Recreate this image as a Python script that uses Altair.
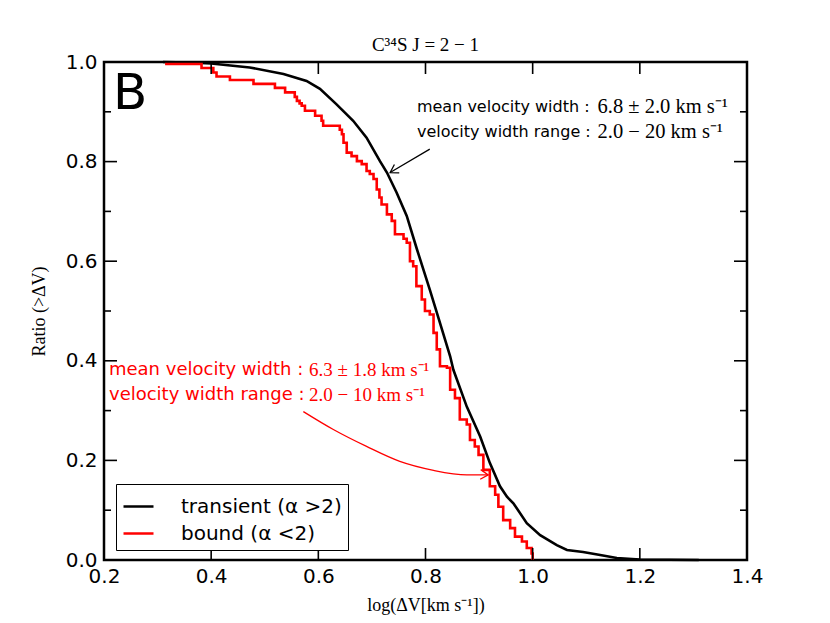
import altair as alt
import pandas as pd

# ---- data ----
black_x = [0.31, 0.36, 0.40, 0.472, 0.535, 0.578, 0.603, 0.634, 0.665, 0.690, 0.715, 0.728,
           0.746, 0.765, 0.784, 0.808, 0.827, 0.846, 0.852, 0.877, 0.902, 0.920, 0.939, 0.952,
           0.964, 0.989, 1.014, 1.045, 1.064, 1.094, 1.126, 1.157, 1.20, 1.31]
black_y = [1.0, 0.999, 0.997, 0.989, 0.976, 0.962, 0.946, 0.915, 0.882, 0.848, 0.801, 0.778,
           0.738, 0.691, 0.624, 0.543, 0.476, 0.409, 0.382, 0.308, 0.248, 0.195, 0.148, 0.127,
           0.114, 0.074, 0.050, 0.030, 0.020, 0.016, 0.010, 0.004, 0.001, 0.0]

red_x = [0.314, 0.382, 0.404, 0.410, 0.435, 0.479, 0.519, 0.538, 0.556, 0.560, 0.565, 0.569,
         0.575, 0.594, 0.606, 0.609, 0.640, 0.644, 0.647, 0.653, 0.662, 0.672, 0.681, 0.690,
         0.696, 0.703, 0.709, 0.714, 0.718, 0.728, 0.737, 0.743, 0.759, 0.765, 0.771, 0.777,
         0.783, 0.793, 0.799, 0.808, 0.815, 0.821, 0.827, 0.840, 0.846, 0.855, 0.864, 0.877,
         0.883, 0.892, 0.899, 0.908, 0.920, 0.930, 0.936, 0.945, 0.958, 0.967, 0.980, 0.989,
         0.998, 1.000]
red_y = [0.996, 0.988, 0.979, 0.971, 0.964, 0.956, 0.948, 0.939, 0.930, 0.922, 0.917, 0.912,
         0.902, 0.892, 0.882, 0.872, 0.864, 0.855, 0.838, 0.818, 0.811, 0.801, 0.795, 0.781,
         0.775, 0.765, 0.744, 0.728, 0.714, 0.694, 0.681, 0.654, 0.645, 0.637, 0.600, 0.590,
         0.550, 0.523, 0.500, 0.493, 0.456, 0.423, 0.389, 0.386, 0.342, 0.325, 0.282, 0.272,
         0.241, 0.228, 0.211, 0.181, 0.148, 0.131, 0.107, 0.080, 0.064, 0.047, 0.037, 0.024,
         0.013, 0.0]

series_names = ["transient (α >2)", "bound (α <2)"]
series_colors = ["black", "#ff0000"]

x_ticks = [0.2, 0.4, 0.6, 0.8, 1.0, 1.2, 1.4]
y_major = [0.0, 0.2, 0.4, 0.6, 0.8, 1.0]
y_minor = [0.1, 0.3, 0.5, 0.7, 0.9]

black_ann_x = [0.784, 0.784]
black_ann_y = [0.909, 0.859]
black_ann_words = ["mean velocity width :", "velocity width range :"]
black_ann_num_x = [1.121, 1.121]
black_ann_nums = ["6.8 ± 2.0 km s⁻¹", "2.0 − 20 km s⁻¹"]

red_ann_x = [0.2093, 0.2093]
red_ann_y = [0.382, 0.332]
red_ann_words = ["mean velocity width :", "velocity width range :"]
red_ann_num_x = [0.5826, 0.5826]
red_ann_nums = ["6.3 ± 1.8 km s⁻¹", "2.0 − 10 km s⁻¹"]

black_arrow_x = [0.808, 0.734]
black_arrow_y = [0.825, 0.778]
red_arrow_x = [0.572, 0.628, 0.690, 0.752, 0.815, 0.877, 0.917]
red_arrow_y = [0.298, 0.262, 0.228, 0.198, 0.180, 0.171, 0.171]

panel_label = ["B"]
panel_x = [0.217]
panel_y = [0.905]

# ---- chart ----
W, H = 643, 498
SANS = "DejaVu Sans"
SERIF = "Liberation Serif"

xs = alt.Scale(domain=[0.2, 1.4], nice=False, zero=False)
ys = alt.Scale(domain=[0.0, 1.0], nice=False, zero=False)
cs = alt.Scale(domain=series_names, range=series_colors)

x_axis = alt.Axis(values=x_ticks, format=".1f", title="log(ΔV[km s⁻¹])", ticks=False, tickSize=0,
                  domain=False, grid=False, labelFont=SANS, labelFontSize=20, labelColor="black",
                  labelPadding=6, labelFlush=False, titleFont=SERIF, titleFontSize=18,
                  titleFontWeight="normal", titleColor="black", titlePadding=10)
y_axis = alt.Axis(values=y_major, format=".1f", title="Ratio (>ΔV)", ticks=False, tickSize=0,
                  domain=False, grid=False, labelFont=SANS, labelFontSize=20, labelColor="black",
                  labelPadding=7, labelFlush=False, titleFont=SERIF, titleFontSize=18,
                  titleFontWeight="normal", titleColor="black", titlePadding=17)

legend = alt.Legend(orient="none", legendX=12, legendY=422, title=None, direction="vertical",
                    strokeColor="black", fillColor="white", padding=6, cornerRadius=0,
                    symbolType="stroke", symbolSize=900, symbolStrokeWidth=2.5,
                    labelFont=SANS, labelFontSize=20, labelColor="black", labelOffset=26,
                    rowPadding=0, labelLimit=400)


def X(field):
    return alt.X(field, scale=xs, axis=x_axis)


def Y(field):
    return alt.Y(field, scale=ys, axis=y_axis)


black_df = pd.DataFrame({"x": black_x, "y": black_y, "s": series_names[0]})
red_df = pd.DataFrame({"x": red_x, "y": red_y, "s": series_names[1]})

black_line = alt.Chart(black_df).mark_line(strokeWidth=2.6).encode(
    x=X("x:Q"), y=Y("y:Q"),
    color=alt.Color("s:N", scale=cs, legend=legend, sort=series_names),
)
red_line = alt.Chart(red_df).mark_line(strokeWidth=2.6, interpolate="step-after").encode(
    x=X("x:Q"), y=Y("y:Q"),
    color=alt.Color("s:N", scale=cs, legend=legend, sort=series_names),
)

tx = pd.DataFrame({"v": x_ticks})
tymaj = pd.DataFrame({"v": y_major})
tymin = pd.DataFrame({"v": y_minor})
TK = dict(color="black", strokeWidth=1.6)
ticks = [
    alt.Chart(tx).mark_rule(**TK).encode(x=X("v:Q"), y=alt.value(H), y2=alt.value(H - 12)),
    alt.Chart(tx).mark_rule(**TK).encode(x=X("v:Q"), y=alt.value(0), y2=alt.value(12)),
    alt.Chart(tymaj).mark_rule(**TK).encode(y=Y("v:Q"), x=alt.value(0), x2=alt.value(13)),
    alt.Chart(tymaj).mark_rule(**TK).encode(y=Y("v:Q"), x=alt.value(W), x2=alt.value(W - 13)),
    alt.Chart(tymin).mark_rule(**TK).encode(y=Y("v:Q"), x=alt.value(0), x2=alt.value(7)),
    alt.Chart(tymin).mark_rule(**TK).encode(y=Y("v:Q"), x=alt.value(W), x2=alt.value(W - 7)),
]


def text_layer(xv, yv, texts, font, size, color, baseline="middle"):
    df = pd.DataFrame({"x": xv, "y": yv, "t": texts})
    return alt.Chart(df).mark_text(align="left", baseline=baseline, font=font, fontSize=size,
                                   color=color).encode(x=X("x:Q"), y=Y("y:Q"), text="t:N")


texts = [
    text_layer(black_ann_x, black_ann_y, black_ann_words, SANS, 16, "black"),
    text_layer(black_ann_num_x, black_ann_y, black_ann_nums, SERIF, 20.5, "black"),
    text_layer(red_ann_x, red_ann_y, red_ann_words, SANS, 18, "#ff0000"),
    text_layer(red_ann_num_x, red_ann_y, red_ann_nums, SERIF, 19, "#ff0000"),
    text_layer(panel_x, panel_y, panel_label, SANS, 50, "black", baseline="alphabetic"),
]

ba = pd.DataFrame({"x": black_arrow_x, "y": black_arrow_y})
ra = pd.DataFrame({"x": red_arrow_x, "y": red_arrow_y})
CHEV = "M-1,-0.62L0,0L-1,0.62"
arrows = [
    alt.Chart(ba).mark_line(color="black", strokeWidth=1.3).encode(x=X("x:Q"), y=Y("y:Q")),
    alt.Chart(ba.tail(1)).mark_point(shape=CHEV, filled=False, color="black", strokeWidth=1.3,
                                     size=240, angle=149.8, opacity=1).encode(x=X("x:Q"), y=Y("y:Q")),
    alt.Chart(ra).mark_line(color="#ff0000", strokeWidth=1.3, interpolate="monotone").encode(
        x=X("x:Q"), y=Y("y:Q")),
    alt.Chart(ra.tail(1)).mark_point(shape=CHEV, filled=False, color="#ff0000", strokeWidth=1.3,
                                     size=240, angle=3, opacity=1).encode(x=X("x:Q"), y=Y("y:Q")),
]

chart = alt.layer(black_line, red_line, *ticks, *arrows, *texts).properties(
    width=W, height=H,
    title=alt.TitleParams("C³⁴S J = 2 − 1", font=SERIF, fontSize=19, fontWeight="normal",
                          color="black", offset=-3),
    autosize=alt.AutoSizeParams(type="none"),
    padding={"left": 96, "top": 54, "right": 50, "bottom": 58},
    background="white",
).configure_view(stroke="black", strokeWidth=2.5)

chart.save("out.html", embed_options={"renderer": "svg", "actions": False})
